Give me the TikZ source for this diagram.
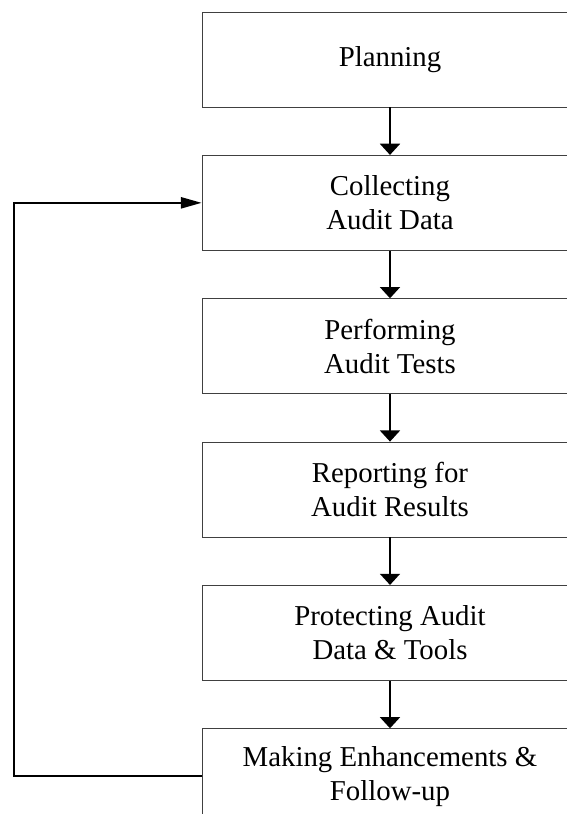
\documentclass[tikz,border=0pt]{standalone}
\usepackage{fontspec}
\setmainfont{Liberation Serif}
\usetikzlibrary{arrows.meta,positioning}

\begin{document}
\begin{tikzpicture}[
    phase/.style={draw=black!75,line width=0.6pt,minimum width=9.4cm,minimum height=2.375cm,
        align=center,font=\fontsize{20.5}{24}\selectfont},
    flow/.style={-{Triangle[width=0.5cm,length=0.28cm]},line width=1.4pt},
    back/.style={-{Triangle[width=0.28cm,length=0.52cm]},line width=1.4pt},
    node distance=1.1875cm
]
    % Area visibile (i riquadri escono a destra e in basso)
    \clip (0,0) rectangle (14.175,-20.35);

    % Fasi
    \node[phase] (plan) at (9.75,-1.4875) {Planning};
    \node[phase,below=of plan] (collect) {Collecting\\Audit Data};
    \node[phase,below=of collect] (test) {Performing\\Audit Tests};
    \node[phase,below=of test] (report) {Reporting for\\Audit Results};
    \node[phase,below=of report] (protect) {Protecting Audit\\Data \& Tools};
    \node[phase,below=of protect] (enhance) {Making Enhancements \&\\Follow-up};

    % Frecce tra le fasi
    \draw[flow] (plan) -- (collect);
    \draw[flow] (collect) -- (test);
    \draw[flow] (test) -- (report);
    \draw[flow] (report) -- (protect);
    \draw[flow] (protect) -- (enhance);

    % Ritorno alla raccolta dati
    \coordinate (loop) at (0.35,0);
    \draw[back] (enhance.west) -| (loop |- collect.west) -- (collect.west);
\end{tikzpicture}
\end{document}
